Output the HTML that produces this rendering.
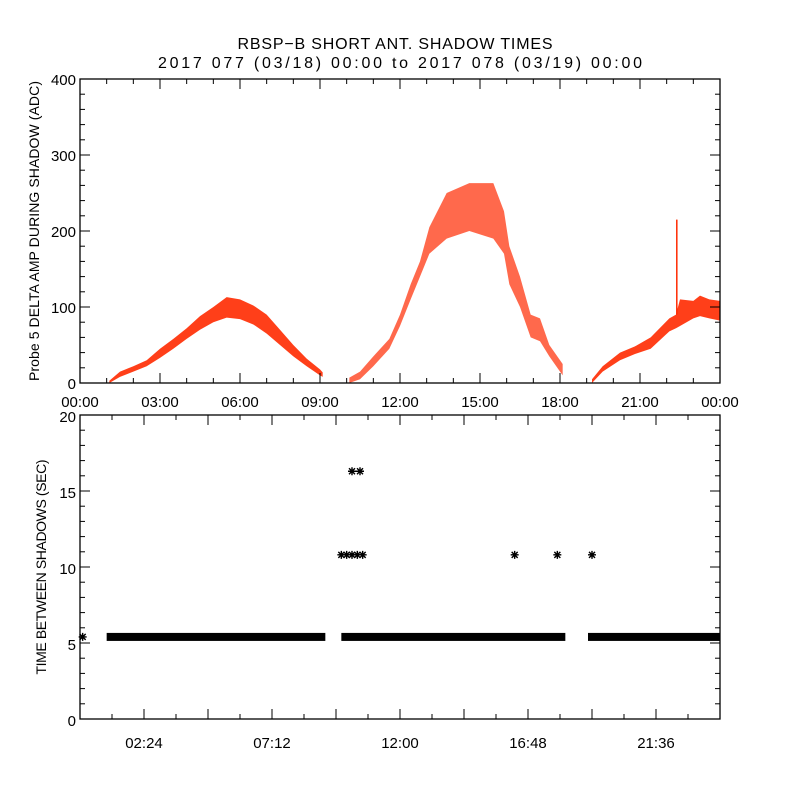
<!DOCTYPE html>
<html><head><meta charset="utf-8"><style>
html,body{margin:0;padding:0;background:#fff;}
svg{display:block;font-family:"Liberation Sans",sans-serif;}
</style></head><body>
<svg id="c" width="800" height="800" viewBox="0 0 800 800">
<text x="395" y="49" text-anchor="middle" font-size="16" textLength="315" lengthAdjust="spacing">RBSP−B SHORT ANT. SHADOW TIMES</text>
<text x="400" y="68" text-anchor="middle" font-size="16" textLength="484" lengthAdjust="spacing">2017 077 (03/18) 00:00 to 2017 078 (03/19) 00:00</text>
<g id="topPanel"></g>
<g id="botPanel"></g>
</svg>
<script>
// ---- top panel data: envelope of probe amplitude (hours, low, high) ----
const seg1Hours=[1.1,1.5,2,2.5,3,3.5,4,4.5,5,5.5,6,6.5,7,7.5,8,8.5,9,9.1];
const seg1Low=[0,8,15,22,33,45,58,70,80,86,84,77,65,50,35,22,10,8];
const seg1High=[3,15,22,30,45,58,72,88,100,113,110,102,90,70,50,32,18,14];
const seg2Hours=[10.1,10.5,11,11.6,12,12.4,12.75,13.1,13.75,14.6,15.5,15.9,16.1,16.5,16.9,17.25,17.6,18.1];
const seg2Low=[0,5,22,45,75,110,140,170,190,200,190,170,130,100,60,55,35,10];
const seg2High=[7,15,35,58,90,130,160,205,250,263,263,226,180,140,90,85,50,25];
const seg3Hours=[19.2,19.6,20.25,20.8,21.4,22.1,22.35,22.5,23,23.25,23.6,24];
const seg3Low=[0,15,30,38,45,68,72,75,85,88,85,82];
const seg3High=[5,22,40,48,60,85,90,110,108,115,110,108];
const spikeHour=[22.38];const spikeTop=[215];const spikeBase=[90];
const topYTicks=[0,100,200,300,400];
const topXLabels=["00:00","03:00","06:00","09:00","12:00","15:00","18:00","21:00","00:00"];
// ---- bottom panel data ----
const lineStart=[1.0,9.8,19.05];
const lineEnd=[9.2,18.2,24];
const lineValue=[5.4,5.4,5.4];
const singleHours=[0.1,9.8,10.0,10.2,10.4,10.6,10.2,10.5,16.3,17.9,19.2];
const singleValues=[5.4,10.8,10.8,10.8,10.8,10.8,16.3,16.3,10.8,10.8,10.8];
const botYTicks=[0,5,10,15,20];
const botXLabels=["02:24","07:12","12:00","16:48","21:36"];

const NS="http://www.w3.org/2000/svg";
function mk(p,t,a){const e=document.createElementNS(NS,t);for(const k in a)e.setAttribute(k,a[k]);p.appendChild(e);return e;}
const X0=80,X1=720;
const xs=h=>X0+(X1-X0)*h/24;
// top
const TT=79,TB=383;const ty=v=>TB-(TB-TT)*v/400;
const topG=document.getElementById('topPanel');
function band(H,L,U,name,op){let pts=[];for(let i=0;i<H.length;i++)pts.push(xs(H[i])+','+ty(U[i]));for(let i=H.length-1;i>=0;i--)pts.push(xs(H[i])+','+ty(L[i]));
 const p=mk(topG,'polygon',{points:pts.join(' '),fill:'#ff2a00','fill-opacity':op});
 
 }
band(seg1Hours,seg1Low,seg1High,'amp-band-1',0.9);
band(seg2Hours,seg2Low,seg2High,'amp-band-2',0.7);
band(seg3Hours,seg3Low,seg3High,'amp-band-3',0.9);
for(let i=0;i<spikeHour.length;i++){const l=mk(topG,'line',{x1:xs(spikeHour[i]),x2:xs(spikeHour[i]),y1:ty(spikeTop[i]),y2:ty(spikeBase[i]),stroke:'#ff2a00','stroke-width':1.5});
 
 }
function frame(g,T,B,name){const r=mk(g,'rect',{x:X0,y:T,width:X1-X0,height:B-T,fill:'none',stroke:'#000','stroke-width':1.3});
 
 }
function lbl(g,x,y,s,anchor,name){const t=mk(g,'text',{x:x,y:y,'text-anchor':anchor,'font-size':15});t.textContent=s;
 
 }
frame(topG,TT,TB,'top-plot-frame');
for(let v=0;v<=400;v+=20){const maj=v%100==0,L=maj?10:5;mk(topG,'line',{x1:X0,x2:X0+L,y1:ty(v),y2:ty(v),stroke:'#000'});mk(topG,'line',{x1:X1,x2:X1-L,y1:ty(v),y2:ty(v),stroke:'#000'});}
topYTicks.forEach(v=>lbl(topG,X0-4,ty(v)+6,String(v),'end','top-y-tick-label'));
for(let h=0;h<=24;h++){const maj=h%3==0,L=maj?10:5;mk(topG,'line',{x1:xs(h),x2:xs(h),y1:TB,y2:TB-L,stroke:'#000'});mk(topG,'line',{x1:xs(h),x2:xs(h),y1:TT,y2:TT+L,stroke:'#000'});}
topXLabels.forEach((s,i)=>lbl(topG,xs(i*3),TB+24,s,'middle','top-x-tick-label'));
const yt=mk(topG,'text',{transform:'translate(39,231) rotate(-90)','text-anchor':'middle','font-size':14,textLength:300,lengthAdjust:'spacing'});yt.textContent='Probe 5 DELTA AMP DURING SHADOW (ADC)';


// bottom
const BT=415,BB=719;const by=v=>BB-(BB-BT)*v/20;
const botG=document.getElementById('botPanel');
for(let i=0;i<lineStart.length;i++){const r=mk(botG,'rect',{x:xs(lineStart[i]),y:by(lineValue[i])-4,width:xs(lineEnd[i])-xs(lineStart[i]),height:8,fill:'#000'});
 
 }
function star(cx,cy){const s=4;return `M${cx-s},${cy}H${cx+s}M${cx},${cy-s}V${cy+s}M${cx-3},${cy-3}L${cx+3},${cy+3}M${cx-3},${cy+3}L${cx+3},${cy-3}`;}
for(let i=0;i<singleHours.length;i++){const p=mk(botG,'path',{d:star(xs(singleHours[i]),by(singleValues[i])),stroke:'#000','stroke-width':1.4,fill:'none'});
 
 }
frame(botG,BT,BB,'bottom-plot-frame');
for(let v=0;v<=20;v++){const maj=v%5==0,L=maj?10:5;mk(botG,'line',{x1:X0,x2:X0+L,y1:by(v),y2:by(v),stroke:'#000'});mk(botG,'line',{x1:X1,x2:X1-L,y1:by(v),y2:by(v),stroke:'#000'});}
botYTicks.forEach(v=>lbl(botG,X0-4,by(v)+7,String(v),'end','bottom-y-tick-label'));
for(let k=0;k<=20;k++){const h=k*1.2,maj=k%2==0,L=maj?10:5;mk(botG,'line',{x1:xs(h),x2:xs(h),y1:BB,y2:BB-L,stroke:'#000'});mk(botG,'line',{x1:xs(h),x2:xs(h),y1:BT,y2:BT+L,stroke:'#000'});}
botXLabels.forEach((s,i)=>lbl(botG,xs(2.4+i*4.8),BB+29,s,'middle','bottom-x-tick-label'));
const yb=mk(botG,'text',{transform:'translate(46,567) rotate(-90)','text-anchor':'middle','font-size':14,textLength:215,lengthAdjust:'spacing'});yb.textContent='TIME BETWEEN SHADOWS (SEC)';


</script>
</body></html>
